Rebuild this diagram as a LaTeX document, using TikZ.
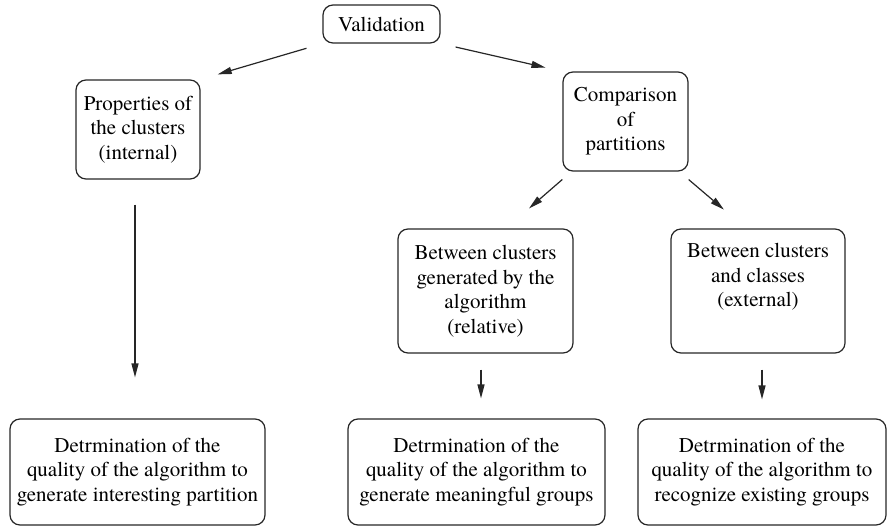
\documentclass[tikz,border=0pt]{standalone}
\usepackage{fontspec}
\setmainfont{TeX Gyre Termes}
\usetikzlibrary{arrows.meta,calc}

\begin{document}
\begin{tikzpicture}[
		x=0.5pt, y=0.5pt,
		>={Triangle[length=7pt, width=3.5pt]},
		font=\fontsize{10.5}{12.25}\selectfont,
		box/.style={draw=black!85, rounded corners=5pt, line width=0.6pt,
				align=center, inner sep=1pt},
		link/.style={->, line width=0.6pt, black!85},
	]
	\useasboundingbox (0,0) rectangle (888,526);

	% top level
	\node[box, minimum width=58.5pt, minimum height=19pt] (valid) at (381.5, 502)
	{Validation};

	% second level
	\node[box, minimum width=62pt, minimum height=49.5pt] (props) at (138, 396.5)
	{Properties of\\the clusters\\(internal)};
	\node[box, minimum width=62.5pt, minimum height=49.5pt] (compar) at (625.5, 404.5)
	{Comparison\\of\\partitions};

	% comparison branches
	\node[box, minimum width=87.5pt, minimum height=62pt] (relat) at (485.5, 235)
	{Between clusters\\generated by the\\algorithm\\(relative)};
	\node[box, minimum width=87pt, minimum height=62pt] (exter) at (758, 235)
	{Between clusters\\and classes\\(external)\\\strut};

	% results
	\node[box, minimum width=127.5pt, minimum height=53pt] (resint) at (137.5, 54)
	{Detrmination of the\\quality of the algorithm to\\generate interesting partition};
	\node[box, minimum width=128.5pt, minimum height=53pt] (resrel) at (476.5, 54)
	{Detrmination of the\\quality of the algorithm to\\generate meaningful groups};
	\node[box, minimum width=124pt, minimum height=53pt] (resext) at (762, 54)
	{Detrmination of the\\quality of the algorithm to\\recognize existing groups};

	% arrows
	\draw[link, shorten <=8.3pt, shorten >=8.9pt] (valid.south west) -- (props.north east);
	\draw[link, shorten <=7.7pt, shorten >=8.7pt] (valid.south east) -- (compar.north west);
	\draw[link, shorten <=6pt, shorten >=15.25pt]
	([xshift=4.5pt]compar.south west) -- ([xshift=10.25pt]relat.north);
	\draw[link, shorten <=6.15pt, shorten >=14.5pt]
	([xshift=-4.65pt]compar.south east) -- ([xshift=-6pt]exter.north);
	\draw[link, shorten <=12.5pt, shorten >=20.5pt]
	([xshift=-1.5pt]props.south) -- ([xshift=-1.5pt]props.south |- resint.north);
	\draw[link, shorten <=8pt, shorten >=10pt]
	([xshift=-2.25pt]relat.south) -- ([xshift=2.25pt]resrel.north);
	\draw[link, shorten <=8pt, shorten >=9.5pt]
	([xshift=2pt]exter.south) -- (resext.north);

\end{tikzpicture}
\end{document}
